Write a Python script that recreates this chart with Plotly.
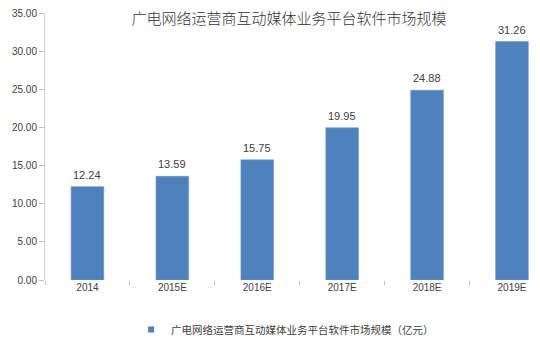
import plotly.graph_objects as go

# Market size of interactive media platform software for cable network operators (100 million CNY)
years = ["2014", "2015E", "2016E", "2017E", "2018E", "2019E"]
market_size = [12.24, 13.59, 15.75, 19.95, 24.88, 31.26]
y_ticks = [0, 5, 10, 15, 20, 25, 30, 35]

title_text = "广电网络运营商互动媒体业务平台软件市场规模"
legend_name = "广电网络运营商互动媒体业务平台软件市场规模（亿元）"

BAR_COLOR = "#4f81bd"
LABEL_FONT = "Liberation Sans, Arial, sans-serif"
CJK_FONT = "Noto Sans CJK SC, sans-serif"

fig = go.Figure()

fig.add_trace(go.Bar(
    x=years,
    y=market_size,
    width=0.385,
    marker=dict(color=BAR_COLOR, line=dict(color="#6f97c9", width=0.6)),
    showlegend=False,
    hoverinfo="skip",
))

# small square legend key
fig.add_trace(go.Scatter(
    x=[None], y=[None],
    mode="markers",
    marker=dict(symbol="square", size=6, color=BAR_COLOR),
    name=legend_name,
    showlegend=True,
))

# value labels above each bar (category axis: position by category index)
for i, v in enumerate(market_size):
    fig.add_annotation(
        x=i, y=v, text=f"{v:.2f}",
        xref="x", yref="y",
        showarrow=False, yanchor="bottom", yshift=4,
        font=dict(family=LABEL_FONT, size=11, color="#404040"),
    )

fig.update_layout(
    width=540, height=344,
    margin=dict(l=45, r=0, t=13, b=63),
    paper_bgcolor="white",
    plot_bgcolor="white",
    title=dict(
        text=title_text,
        x=0.535, xanchor="center",
        y=1 - 19 / 344, yanchor="middle",
        font=dict(family=CJK_FONT, size=15, color="#333333", weight=300),
    ),
    legend=dict(
        orientation="h",
        x=0.485, xanchor="center",
        y=-0.185, yanchor="middle",
        font=dict(family=CJK_FONT, size=10.5, color="#404040"),
        itemwidth=30,
        bgcolor="rgba(0,0,0,0)",
    ),
    xaxis=dict(
        type="category",
        range=[-0.5, 5.33],
        showgrid=False,
        showline=False,
        ticks="outside",
        tickson="boundaries",
        ticklen=4,
        tickcolor="#bfbfbf",
        tickfont=dict(family=LABEL_FONT, size=10, color="#404040"),
        zeroline=False,
    ),
    yaxis=dict(
        range=[0, 35],
        tickvals=y_ticks,
        tickformat=".2f",
        showgrid=False,
        showline=True,
        linecolor="#d0d0d0",
        linewidth=1,
        ticks="outside",
        ticklen=5,
        tickcolor="#bfbfbf",
        tickfont=dict(family=LABEL_FONT, size=10, color="#404040"),
        zeroline=False,
    ),
)

fig.write_html("out.html")
